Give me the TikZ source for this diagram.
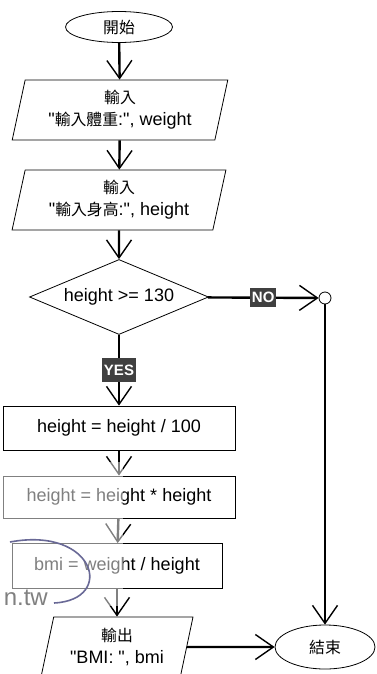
\documentclass[tikz,border=0pt]{standalone}
\usepackage{fontspec}
\setmainfont{Liberation Sans}[Ligatures=TeXOff]
\newfontfamily\cjk{Noto Sans CJK TC}[Scale=0.88]
\usetikzlibrary{arrows.meta}
\usetikzlibrary{shapes.geometric}
\definecolor{markarc}{RGB}{105,105,150}
\tikzset{
	align=center,
	terminal/.style={
		draw,
		ellipse,
		line width=0.8pt,
		inner sep=0pt,
	},
	io/.style={
		draw,
		trapezium,
		trapezium left angle=76,
		trapezium right angle=104,
		trapezium stretches=true,
		line width=0.8pt,
		inner sep=0pt,
		minimum height=60pt,
	},
	decision/.style={
		draw,
		diamond,
		line width=0.8pt,
		inner sep=0pt,
		aspect=2.4,
		minimum width=179pt,
		minimum height=75pt,
	},
	process/.style={
		draw,
		rectangle,
		line width=0.8pt,
		inner sep=0pt,
	},
	joint/.style={
		draw,
		circle,
		fill=white,
		line width=0.8pt,
		inner sep=0pt,
		minimum size=12pt,
	},
	flow/.style={
		line width=2.4pt,
		-{Straight Barb[length=18pt,width=25pt,line width=1.4pt]}
	},
	branch/.style={
		fill=black!75,
		text=white,
		font=\fontsize{15}{15}\bfseries,
		inner xsep=1.5pt,
		inner ysep=0pt,
		minimum height=19pt,
	},
}

\begin{document}
\begin{tikzpicture}[x=1pt, y=-1pt, font=\fontsize{18}{22}\selectfont]
	\useasboundingbox (0,0) rectangle (376,674);

	\node[terminal, minimum width=107pt, minimum height=31pt] (start) at (119,27) {\cjk 開始};
	\node[io, minimum width=216pt] (inweight) at (120,110) {{\cjk 輸入}\\"{\cjk 輸入體重}:", weight};
	\node[io, minimum width=214pt] (inheight) at (119,200) {{\cjk 輸入}\\"{\cjk 輸入身高}:", height};
	\node[decision] (check) at (119,297) {height >= 130};
	\node[joint] (merge) at (325,298) {};
	\node[process, minimum width=232pt, minimum height=44pt] (tometre) at (119,428) {height = height / 100};
	\node[process, minimum width=232pt, minimum height=42pt] (square) at (119,497) {height = height * height};
	\node[process, minimum width=210pt, minimum height=45pt] (calc) at (117,566) {bmi = weight / height};
	\node[io, minimum width=152pt] (output) at (117,647) {{\cjk 輸出}\\"BMI: ", bmi};
	\node[terminal, minimum width=100pt, minimum height=44pt] (finish) at (325,647) {\cjk 結束};

	\draw[flow] (start) -- (inweight);
	\draw[flow] (inweight) -- (inheight);
	\draw[flow] (inheight) -- (check);
	\draw[flow] (check) -- node[branch] {NO} (merge);
	\draw[flow] (check) -- node[branch, minimum height=24pt] {YES} (tometre);
	\draw[flow] (tometre) -- (square);
	\draw[flow] (square) -- (calc);
	\draw[flow] (calc) -- (output);
	\draw[flow] (output) -- (finish);
	\draw[flow] (merge) -- (finish);

	% watermark
	\fill[white, fill opacity=0.5] (0,462) rectangle (123,606);
	\draw[line width=1.6pt, markarc] (10,542) .. controls (95,526) and (116,600) .. (54,603);
	\node[text=black!50, font=\fontsize{24}{24}\selectfont, anchor=east, inner sep=0pt] (mark) at (48,598) {n.tw};
\end{tikzpicture}
\end{document}
